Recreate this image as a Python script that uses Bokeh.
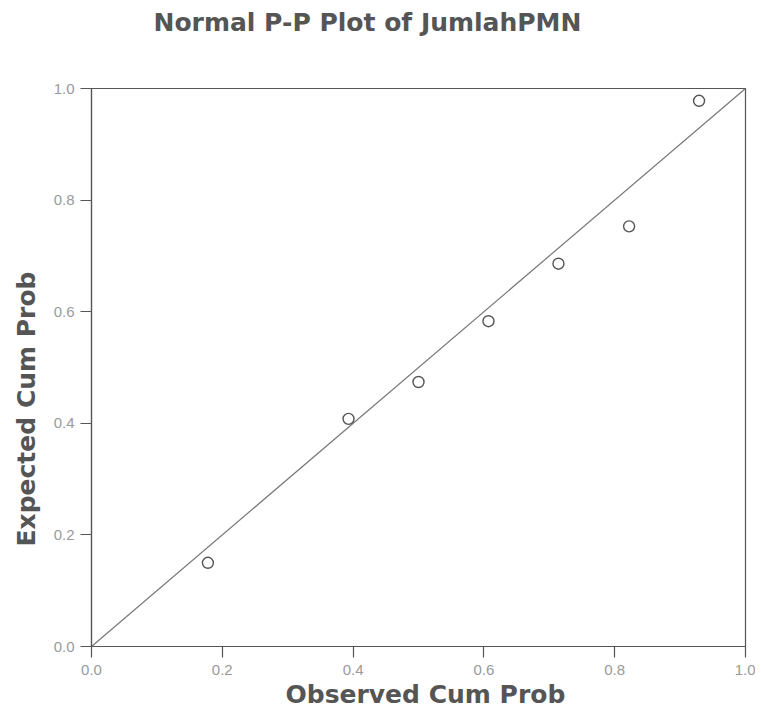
from bokeh.plotting import figure
from bokeh.models import Range1d, PrintfTickFormatter, FixedTicker, Title
from bokeh.embed import file_html
from bokeh.resources import INLINE

# Data
observed = [0.178, 0.393, 0.500, 0.607, 0.714, 0.822, 0.929]
expected = [0.150, 0.408, 0.474, 0.583, 0.686, 0.753, 0.978]
ref_line = [0.0, 1.0]
ticks = [0.0, 0.2, 0.4, 0.6, 0.8, 1.0]

title_text = "Normal P-P Plot of JumlahPMN"
xlabel_text = "Observed Cum Prob"
ylabel_text = "Expected Cum Prob"

p = figure(width=755, height=711, output_backend="svg", toolbar_location=None,
           title=None,
           x_range=Range1d(0, 1), y_range=Range1d(0, 1),
           min_border_left=91, min_border_right=10, min_border_top=88, min_border_bottom=65)

p.background_fill_color = "white"
p.border_fill_color = "white"
p.grid.visible = False
p.outline_line_color = "#555555"
p.outline_line_width = 1.2

p.line(ref_line, ref_line, line_color="#777777", line_width=1.2)
p.scatter(observed, expected, marker="circle", size=11, fill_color=None,
          line_color="#555555", line_width=1.4)

for ax in (p.xaxis[0], p.yaxis[0]):
    ax.ticker = FixedTicker(ticks=ticks)
    ax.formatter = PrintfTickFormatter(format="%.1f")
    ax.major_tick_in = 0
    ax.major_tick_out = 11
    ax.minor_tick_in = 0
    ax.minor_tick_out = 0
    ax.axis_line_color = "#555555"
    ax.axis_line_width = 1.2
    ax.major_tick_line_color = "#555555"
    ax.major_tick_line_width = 1.2
    ax.major_label_text_font = "Liberation Sans"
    ax.major_label_text_font_size = "15px"
    ax.major_label_text_color = "#9a9a9a"

p.xaxis.major_label_standoff = 7
p.yaxis.major_label_standoff = 6

style = dict(text_font="DejaVu Sans", text_font_style="bold", text_color="#555555",
             text_font_size="25px", align="left")

# spacer nearest the frame, then the real title further out
p.add_layout(Title(text=" ", text_font_size="10px", standoff=39), "above")
p.add_layout(Title(text=title_text, offset=62, standoff=0, **style), "above")
p.add_layout(Title(text=xlabel_text, offset=194, standoff=0, **style), "below")
p.add_layout(Title(text=ylabel_text, offset=100, standoff=19, **style), "left")

open("out.html", "w").write(file_html(p, INLINE))
